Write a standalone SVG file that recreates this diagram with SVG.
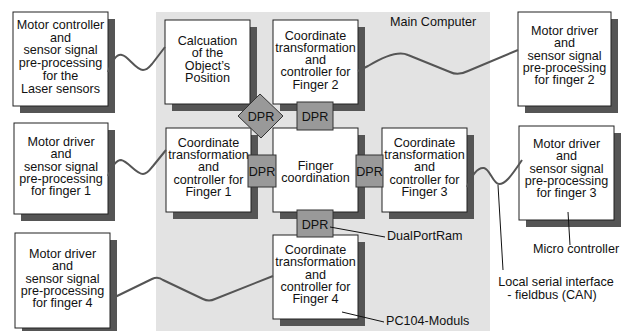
<svg xmlns="http://www.w3.org/2000/svg" width="628" height="331" viewBox="0 0 628 331">
<style>
.bx{fill:#fff;stroke:#222;stroke-width:1}
.sh{fill:#555}
.dpr{fill:#999;stroke:#333;stroke-width:1}
.t{font-family:"Liberation Sans",Arial,sans-serif;font-size:12.6px;fill:#111;text-anchor:middle}
.l{font-family:"Liberation Sans",Arial,sans-serif;font-size:12.6px;fill:#111}
.w{fill:none;stroke:#555;stroke-width:2;stroke-linejoin:round}
.k{fill:none;stroke:#111;stroke-width:1}
</style>
<rect width="628" height="331" fill="#fff"/>
<rect x="156" y="12" width="334" height="320" fill="#e3e3e3"/>
<text class="l" x="390" y="26">Main Computer</text>

<g id="laser">
<rect class="sh" x="20" y="19" width="95" height="94"/>
<rect class="bx" x="13" y="12" width="95" height="94"/>
<text class="t" x="60.5" y="29"><tspan x="60.5">Motor controller</tspan><tspan x="60.5" dy="12.7">and</tspan><tspan x="60.5" dy="12.7">sensor signal</tspan><tspan x="60.5" dy="12.7">pre-processing</tspan><tspan x="60.5" dy="12.7">for the</tspan><tspan x="60.5" dy="12.7">Laser sensors</tspan></text>
</g>

<g id="motor1">
<rect class="sh" x="21" y="130" width="94" height="91"/>
<rect class="bx" x="14" y="123" width="94" height="91"/>
<text class="t" x="61" y="146"><tspan x="61">Motor driver</tspan><tspan x="61" dy="12.3">and</tspan><tspan x="61" dy="12.3">sensor signal</tspan><tspan x="61" dy="12.3">pre-processing</tspan><tspan x="61" dy="12.3">for finger 1</tspan></text>
</g>

<g id="motor4">
<rect class="sh" x="22" y="240" width="95" height="95"/>
<rect class="bx" x="15" y="233" width="95" height="95"/>
<text class="t" x="62.5" y="258"><tspan x="62.5">Motor driver</tspan><tspan x="62.5" dy="12.3">and</tspan><tspan x="62.5" dy="12.3">sensor signal</tspan><tspan x="62.5" dy="12.3">pre-processing</tspan><tspan x="62.5" dy="12.3">for finger 4</tspan></text>
</g>

<g id="motor2">
<rect class="sh" x="525" y="19" width="93" height="94"/>
<rect class="bx" x="518" y="12" width="93" height="94"/>
<text class="t" x="564.5" y="35"><tspan x="564.5">Motor driver</tspan><tspan x="564.5" dy="12.3">and</tspan><tspan x="564.5" dy="12.3">sensor signal</tspan><tspan x="564.5" dy="12.3">pre-processing</tspan><tspan x="564.5" dy="12.3">for finger 2</tspan></text>
</g>

<g id="motor3">
<rect class="sh" x="526" y="133" width="95" height="94"/>
<rect class="bx" x="519" y="126" width="95" height="94"/>
<text class="t" x="566.5" y="148"><tspan x="566.5">Motor driver</tspan><tspan x="566.5" dy="12.3">and</tspan><tspan x="566.5" dy="12.3">sensor signal</tspan><tspan x="566.5" dy="12.3">pre-processing</tspan><tspan x="566.5" dy="12.3">for finger 3</tspan></text>
</g>

<g id="calc">
<rect class="sh" x="172" y="27" width="85" height="84"/>
<rect class="bx" x="165" y="20" width="85" height="84"/>
<text class="t" x="207.5" y="45"><tspan x="207.5">Calcuation</tspan><tspan x="207.5" dy="12.3">of the</tspan><tspan x="207.5" dy="12.3">Object’s</tspan><tspan x="207.5" dy="12.3">Position</tspan></text>
</g>

<g id="coord2">
<rect class="sh" x="280" y="27" width="85" height="84"/>
<rect class="bx" x="273" y="20" width="85" height="84"/>
<text class="t" x="315.5" y="39.5"><tspan x="315.5">Coordinate</tspan><tspan x="315.5" dy="12.3">transformation</tspan><tspan x="315.5" dy="12.3">and</tspan><tspan x="315.5" dy="12.3">controller for</tspan><tspan x="315.5" dy="12.3">Finger 2</tspan></text>
</g>

<g id="coord1">
<rect class="sh" x="173" y="135" width="85" height="84"/>
<rect class="bx" x="166" y="128" width="85" height="84"/>
<text class="t" x="208.5" y="146.7"><tspan x="208.5">Coordinate</tspan><tspan x="208.5" dy="12.3">transformation</tspan><tspan x="208.5" dy="12.3">and</tspan><tspan x="208.5" dy="12.3">controller for</tspan><tspan x="208.5" dy="12.3">Finger 1</tspan></text>
</g>

<g id="fingercoord">
<rect class="sh" x="280" y="135" width="85" height="84"/>
<rect class="bx" x="273" y="128" width="85" height="84"/>
<text class="t" x="315.5" y="170"><tspan x="315.5">Finger</tspan><tspan x="315.5" dy="12.3">coordination</tspan></text>
</g>

<g id="coord3">
<rect class="sh" x="389" y="135" width="85" height="84"/>
<rect class="bx" x="382" y="128" width="85" height="84"/>
<text class="t" x="424.5" y="146.7"><tspan x="424.5">Coordinate</tspan><tspan x="424.5" dy="12.3">transformation</tspan><tspan x="424.5" dy="12.3">and</tspan><tspan x="424.5" dy="12.3">controller for</tspan><tspan x="424.5" dy="12.3">Finger 3</tspan></text>
</g>

<g id="coord4">
<rect class="sh" x="280" y="242" width="85" height="84"/>
<rect class="bx" x="273" y="235" width="85" height="84"/>
<text class="t" x="315.5" y="254"><tspan x="315.5">Coordinate</tspan><tspan x="315.5" dy="12.3">transformation</tspan><tspan x="315.5" dy="12.3">and</tspan><tspan x="315.5" dy="12.3">controller for</tspan><tspan x="315.5" dy="12.3">Finger 4</tspan></text>
</g>

<g id="dpr-diamond">
<polygon class="dpr" points="260,94 283,116 261,138 238,116"/>
<text class="t" x="261" y="121">DPR</text>
</g>
<g id="dpr-top">
<rect class="dpr" x="297" y="102" width="36" height="28"/>
<text class="t" x="315" y="121">DPR</text>
</g>
<g id="dpr-left">
<rect class="dpr" x="248" y="155" width="28" height="32"/>
<text class="t" x="262" y="175.5">DPR</text>
</g>
<g id="dpr-right">
<rect class="dpr" x="356" y="155" width="27" height="32"/>
<text class="t" x="369.5" y="175.5">DPR</text>
</g>
<g id="dpr-bottom">
<rect class="dpr" x="297" y="210" width="36" height="27"/>
<text class="t" x="315" y="228.5">DPR</text>
</g>

<g id="connectors">
<path class="w" d="M108,72 C113,58 118,54 122,55 C128,56 136,70 143,70 C148,70 150,66 152,64 L165,47"/>
<path class="w" d="M108,176 C113,164 117,160 121,160 C128,161 136,174 143,174 C148,174 151,168 153,166 L166,150"/>
<path class="w" d="M115,297 L152,279 Q158,276 163,280 L203,299 Q209,302 215,299 L273,276"/>
<path class="w" d="M358,71 L368,66 Q396,49 408,55 L450,72 Q458,76 468,71 L518,50"/>
<path class="w" d="M467,187 C472,175 478,167 484,168 C490,169 493,184 499,184 C505,184 510,178 522,160"/>
<path class="k" d="M330,227 L385,237"/>
<path class="k" d="M342,312 L384,322"/>
<path class="k" d="M568,212 L570,245"/>
<path class="k" d="M498,185 L503,270"/>
</g>

<text class="l" x="387" y="240">DualPortRam</text>
<text class="l" x="386" y="325">PC104-Moduls</text>
<text class="l" x="533" y="253">Micro controller</text>
<text class="t" x="556" y="286"><tspan x="556">Local serial interface</tspan><tspan x="552" dy="13">- fieldbus (CAN)</tspan></text>
</svg>
